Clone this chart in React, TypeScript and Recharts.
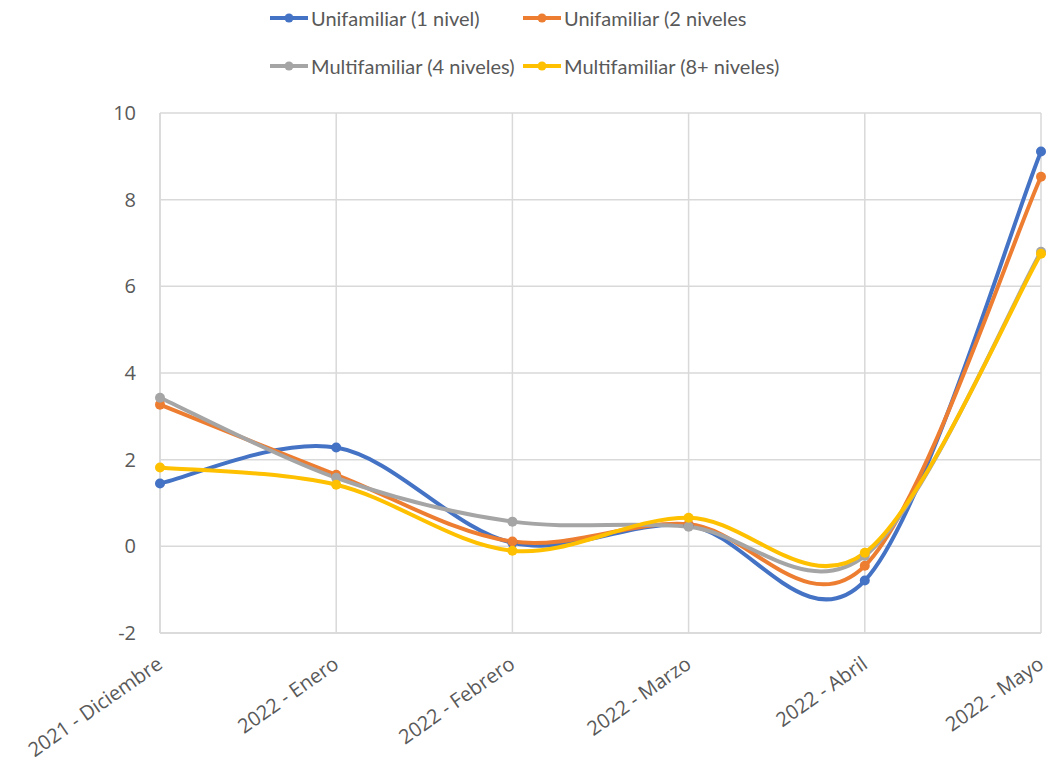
import React from 'react';
import {
  LineChart,
  Line,
  XAxis,
  YAxis,
  CartesianGrid,
} from 'recharts';

const categories = [
  '2021 - Diciembre',
  '2022 - Enero',
  '2022 - Febrero',
  '2022 - Marzo',
  '2022 - Abril',
  '2022 - Mayo',
];

const unifamiliar1 = [1.45, 2.28, 0.08, 0.48, -0.79, 9.11];
const unifamiliar2 = [3.27, 1.65, 0.11, 0.51, -0.45, 8.53];
const multifamiliar4 = [3.43, 1.58, 0.57, 0.45, -0.22, 6.8];
const multifamiliar8 = [1.82, 1.42, -0.1, 0.66, -0.15, 6.75];

const yTicks = [-2, 0, 2, 4, 6, 8, 10];

const SERIES = [
  { key: 'u1', name: 'Unifamiliar (1 nivel)', color: '#4472C4' },
  { key: 'u2', name: 'Unifamiliar (2 niveles', color: '#ED7D31' },
  { key: 'm4', name: 'Multifamiliar (4 niveles)', color: '#A5A5A5' },
  { key: 'm8', name: 'Multifamiliar (8+ niveles)', color: '#FFC000' },
];

const FONT = 'Lato, "Open Sans", sans-serif';
const TICK_FONT = '"Open Sans", Lato, sans-serif';
const TEXT = '#595959';

const data = categories.map((name, i) => ({
  name,
  u1: unifamiliar1[i],
  u2: unifamiliar2[i],
  m4: multifamiliar4[i],
  m8: multifamiliar8[i],
}));

// Excel-style smoothing (Catmull-Rom via bezier segments)
function excelCurve(context: any) {
  let pts: number[][] = [];
  return {
    areaStart() {},
    areaEnd() {},
    lineStart() {
      pts = [];
    },
    point(x: number, y: number) {
      pts.push([+x, +y]);
    },
    lineEnd() {
      const n = pts.length;
      if (!n) return;
      context.moveTo(pts[0][0], pts[0][1]);
      for (let i = 0; i < n - 1; i++) {
        const p0 = pts[i - 1] || pts[i];
        const p1 = pts[i];
        const p2 = pts[i + 1];
        const p3 = pts[i + 2] || p2;
        context.bezierCurveTo(
          p1[0] + (p2[0] - p0[0]) / 6,
          p1[1] + (p2[1] - p0[1]) / 6,
          p2[0] - (p3[0] - p1[0]) / 6,
          p2[1] - (p3[1] - p1[1]) / 6,
          p2[0],
          p2[1]
        );
      }
    },
  };
}

function XTick({ x, y, payload }: any) {
  const ax = x + 4;
  const ay = y + 26;
  return (
    <text
      x={ax}
      y={ay}
      textAnchor="end"
      fontSize={20}
      fontFamily={TICK_FONT}
      fill={TEXT}
      transform={`rotate(-35, ${ax}, ${ay})`}
    >
      {payload.value}
    </text>
  );
}

function LegendItem({ name, color }: { name: string; color: string }) {
  return (
    <div style={{ display: 'flex', alignItems: 'center', height: 26, whiteSpace: 'nowrap' }}>
      <svg width={38} height={10} style={{ marginRight: 3, flexShrink: 0 }}>
        <line x1={0} y1={5} x2={38} y2={5} stroke={color} strokeWidth={4} />
        <circle cx={19} cy={5} r={4.5} fill={color} />
      </svg>
      <span style={{ fontSize: 20, color: TEXT, fontFamily: FONT }}>{name}</span>
    </div>
  );
}

export default function App() {
  return (
    <div
      style={{
        position: 'absolute',
        left: 0,
        top: 0,
        width: 1050,
        height: 767,
        background: '#ffffff',
      }}
    >
      {/* Legend */}
      <div
        style={{
          position: 'absolute',
          left: 270,
          top: 5,
          display: 'grid',
          gridTemplateColumns: '253px 300px',
          rowGap: 22,
        }}
      >
        {SERIES.map((s) => (
          <LegendItem key={s.key} name={s.name} color={s.color} />
        ))}
      </div>

      <LineChart
        width={1050}
        height={767}
        data={data}
        margin={{ top: 113, right: 9, left: 0, bottom: 0 }}
      >
        <CartesianGrid stroke="#d9d9d9" strokeWidth={1.5} />
        <XAxis
          dataKey="name"
          interval={0}
          height={134}
          tick={<XTick />}
          tickLine={false}
          axisLine={{ stroke: '#d9d9d9', strokeWidth: 1.5 }}
        />
        <YAxis
          width={160}
          domain={[-2, 10]}
          ticks={yTicks}
          tickSize={0}
          tickMargin={24}
          tickLine={false}
          axisLine={{ stroke: '#d9d9d9', strokeWidth: 1.5 }}
          tick={{ fontSize: 20, fill: TEXT, fontFamily: TICK_FONT }}
        />
        {SERIES.map((s) => (
          <Line
            key={s.key}
            dataKey={s.key}
            name={s.name}
            type={excelCurve as any}
            stroke={s.color}
            strokeWidth={4}
            dot={{ r: 5, fill: s.color, stroke: s.color, strokeWidth: 0 }}
            activeDot={false}
            isAnimationActive={false}
          />
        ))}
      </LineChart>
    </div>
  );
}
